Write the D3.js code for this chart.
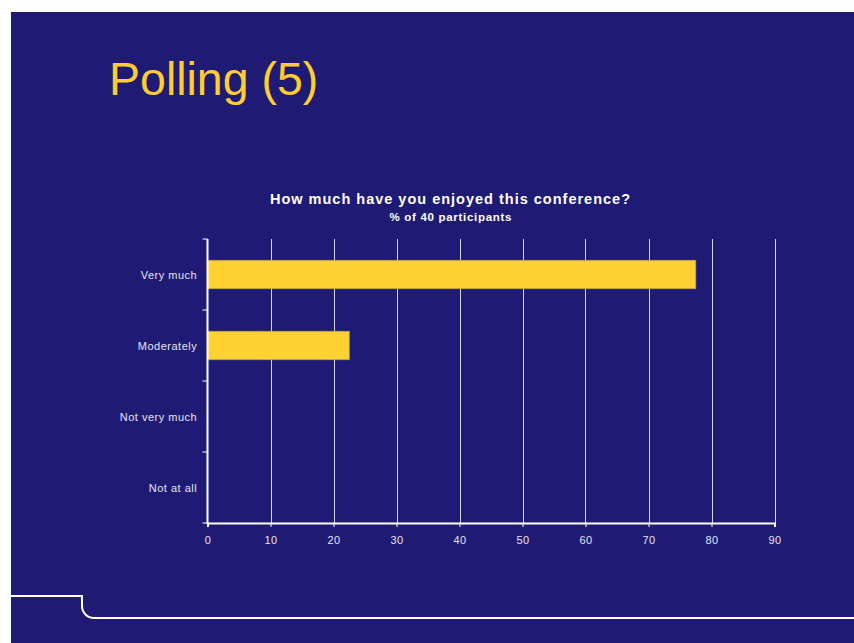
<!DOCTYPE html>
<html>
<head>
<meta charset="utf-8">
<script src="https://cdn.jsdelivr.net/npm/d3@7"></script>
<style>
  html, body { margin: 0; padding: 0; background: #ffffff; }
  svg { display: block; font-family: "Liberation Sans", Arial, sans-serif; }
</style>
</head>
<body>
<svg id="chart" width="854" height="643"></svg>
<script>
const categories = ["Very much", "Moderately", "Not very much", "Not at all"];
const values = [77.5, 22.5, 0, 0];
const xTicks = [0, 10, 20, 30, 40, 50, 60, 70, 80, 90];
const slideTitle = "Polling (5)";
const chartTitle = "How much have you enjoyed this conference?";
const chartSubtitle = "% of 40 participants";

(function () {
const svg = d3.select("#chart");
const W = 854, H = 643;
const bg = "#1f1b74";

// slide background
svg.append("rect").attr("x", 11).attr("y", 12).attr("width", W - 11).attr("height", H - 12).attr("fill", bg);

// slide title
svg.append("text").attr("x", 109).attr("y", 95)
  .attr("fill", "#ffcc33").attr("font-size", 46.5).text(slideTitle);

// chart title
svg.append("text").attr("x", 450.5).attr("y", 204).attr("text-anchor", "middle")
  .attr("fill", "#ffffff").attr("font-size", 14.5).attr("font-weight", "bold")
  .attr("letter-spacing", 1).text(chartTitle);
svg.append("text").attr("x", 450.8).attr("y", 221).attr("text-anchor", "middle")
  .attr("fill", "#ffffff").attr("font-size", 11.5).attr("font-weight", "bold")
  .attr("letter-spacing", 0.7).text(chartSubtitle);

const pLeft = 207.5, pRight = 774.5, pTop = 239, pBottom = 523;
const x = d3.scaleLinear().domain([0, 90]).range([pLeft, pRight]);
const y = d3.scaleBand().domain(categories).range([pTop, pBottom]).paddingInner(0.6).paddingOuter(0.3);
const yb = d3.scaleBand().domain(categories).range([pTop, pBottom]);

// gridlines
svg.append("g").selectAll("line").data(xTicks.filter(d => d > 0)).join("line")
  .attr("x1", d => Math.round(x(d)) + 0.5).attr("x2", d => Math.round(x(d)) + 0.5)
  .attr("y1", pTop).attr("y2", pBottom)
  .attr("stroke", "#d4d4e6").attr("stroke-width", 1);

// bars
svg.append("g").selectAll("rect").data(categories).join("rect")
  .attr("x", x(0))
  .attr("y", (d) => y(d))
  .attr("width", (d, i) => x(values[i]) - x(0))
  .attr("height", y.bandwidth())
  .attr("fill", (d, i) => values[i] > 0 ? "#ffd233" : "none")
  .attr("stroke", (d, i) => values[i] > 0 ? "#c4a03c" : "none")
  .attr("stroke-width", 0.8);

// x axis
const xAxis = svg.append("g").attr("transform", `translate(0,${pBottom})`)
  .call(d3.axisBottom(x).tickValues(xTicks).tickSize(4).tickPadding(9));
xAxis.select(".domain").attr("stroke", "#ffffff").attr("stroke-width", 2);
xAxis.selectAll(".tick line").attr("stroke", "#ffffff");
xAxis.selectAll("text").attr("fill", "#e4e4f0").attr("font-size", 11)
  .attr("letter-spacing", 0.3)
  .attr("font-family", "Liberation Sans, Arial, sans-serif");

// y axis: ticks at band boundaries
const yAxis = svg.append("g").attr("transform", `translate(${pLeft},0)`);
yAxis.append("line").attr("x1", 0).attr("x2", 0).attr("y1", pTop).attr("y2", pBottom + 1)
  .attr("stroke", "#ffffff").attr("stroke-width", 2);
const bounds = categories.map(c => yb(c)).concat([pBottom]);
yAxis.selectAll("line.tk").data(bounds).join("line").attr("class", "tk")
  .attr("x1", -5).attr("x2", 0).attr("y1", d => d).attr("y2", d => d)
  .attr("stroke", "#ffffff").attr("stroke-width", 1);
yAxis.selectAll("text").data(categories).join("text")
  .attr("x", -10.3).attr("y", d => yb(d) + yb.bandwidth() / 2 + 4)
  .attr("text-anchor", "end").attr("fill", "#e4e4f0").attr("font-size", 11)
  .attr("letter-spacing", 0.5).text(d => d);

// bottom decoration line
const path = d3.path();
path.moveTo(11, 596);
path.lineTo(82, 596);
path.lineTo(82, 606);
path.arcTo(82, 618, 94, 618, 12);
path.lineTo(854, 618);
svg.append("path").attr("d", path.toString()).attr("fill", "none")
  .attr("stroke", "#ffffff").attr("stroke-width", 2);
})();
</script>
</body>
</html>
